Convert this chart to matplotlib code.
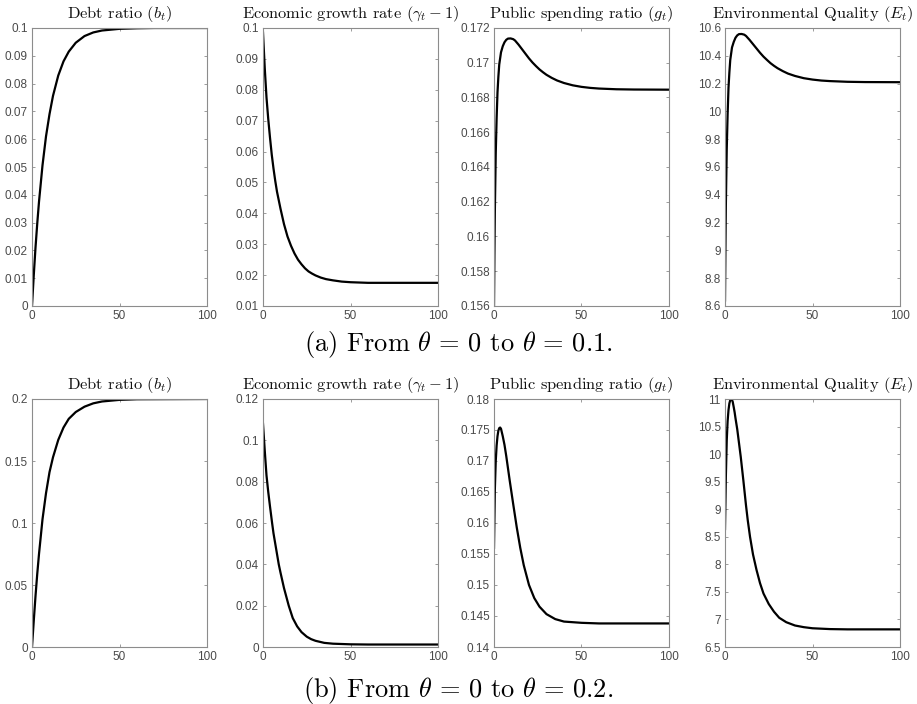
import matplotlib
matplotlib.use("Agg")
import matplotlib.pyplot as plt
from matplotlib.ticker import FormatStrFormatter, MultipleLocator

plt.rcParams['mathtext.fontset'] = 'cm'
plt.rcParams['font.family'] = ['Liberation Sans', 'DejaVu Sans']

# ---------------- Data ----------------
# (a) From theta = 0 to theta = 0.1
t_b1 = [0, 1, 2, 3, 4, 6, 8, 10, 12, 15, 18, 21, 25, 30, 35, 40, 50, 60, 70, 80, 100]
b1 = [0, 0.011, 0.021, 0.0297, 0.0375, 0.0506, 0.061, 0.069, 0.0756, 0.0829, 0.0880,
      0.0915, 0.0947, 0.0971, 0.0984, 0.0991, 0.0997, 0.0999, 0.1, 0.1, 0.1]

t_gr1 = [0, 1, 2, 3, 4, 5, 6, 7, 8, 10, 12, 14, 16, 18, 20, 22, 24, 26, 28, 30, 33, 36,
         40, 45, 50, 60, 100]
gr1 = [0.0985, 0.087, 0.0775, 0.0705, 0.0645, 0.059, 0.0545, 0.0505, 0.047, 0.0415,
       0.0365, 0.0325, 0.0295, 0.027, 0.025, 0.0235, 0.0222, 0.0212, 0.0205, 0.0199,
       0.0192, 0.0187, 0.0183, 0.0179, 0.0177, 0.0175, 0.0175]

t_g1 = [0, 0.25, 0.5, 1, 1.5, 2, 2.5, 3, 4, 5, 6, 7, 8, 9.5, 11, 12, 14, 16, 18, 20, 22,
        24, 26, 28, 30, 33, 36, 40, 45, 50, 55, 60, 70, 80, 100]
g1 = [0.156, 0.159, 0.1615, 0.1648, 0.1668, 0.1683, 0.1692, 0.1699, 0.1706, 0.17095,
      0.17118, 0.17132, 0.17139, 0.17140, 0.171356, 0.171282, 0.171046, 0.170781,
      0.170515, 0.17025, 0.170014, 0.169807, 0.169615, 0.169453, 0.169306, 0.169129,
      0.168981, 0.168834, 0.168701, 0.168612, 0.168553, 0.168515, 0.168474, 0.168459,
      0.16845]

t_e1 = [0, 0.25, 0.5, 1, 1.5, 2, 2.5, 3, 4, 5, 6, 7, 8, 9.5, 11, 12, 14, 16, 18, 20, 22,
        24, 26, 28, 30, 33, 36, 40, 45, 50, 55, 60, 70, 80, 100]
e1 = [8.64, 9.01, 9.33, 9.73, 9.98, 10.17, 10.28, 10.37, 10.46, 10.50, 10.53, 10.547,
      10.556, 10.557, 10.552, 10.543, 10.515, 10.484, 10.453, 10.422, 10.394, 10.370,
      10.347, 10.328, 10.311, 10.290, 10.272, 10.255, 10.239, 10.229, 10.222, 10.218,
      10.213, 10.211, 10.21]

# (b) From theta = 0 to theta = 0.2
t_b2 = [0, 1, 2, 3, 4, 6, 8, 10, 12, 15, 18, 21, 25, 30, 35, 40, 50, 60, 100]
b2 = [0, 0.021, 0.041, 0.059, 0.075, 0.103, 0.124, 0.141, 0.153, 0.167, 0.177, 0.184,
      0.1895, 0.1938, 0.1965, 0.198, 0.1993, 0.1998, 0.2]

t_gr2 = [0, 1, 2, 3, 4, 5.2, 6, 7, 8, 9, 10, 12, 14.7, 17, 19.5, 22, 25, 27.5, 30, 35,
         40, 50, 60, 100]
gr2 = [0.108, 0.095, 0.083, 0.075, 0.068, 0.060, 0.055, 0.050, 0.045, 0.040, 0.036,
       0.0285, 0.020, 0.014, 0.010, 0.0072, 0.005, 0.0038, 0.003, 0.002, 0.0016, 0.0013,
       0.0012, 0.0012]

t_g2 = [0, 0.5, 1, 1.5, 2, 2.5, 3, 3.5, 4, 5, 6, 7, 8, 9, 11, 13, 15, 17, 20, 23, 26,
        30, 35, 40, 50, 60, 100]
g2 = [0.156, 0.1655, 0.170, 0.1725, 0.174, 0.1749, 0.1753, 0.1754, 0.1752, 0.1740,
      0.1726, 0.1708, 0.1688, 0.1668, 0.1630, 0.1593, 0.1560, 0.1532, 0.1500, 0.1479,
      0.1465, 0.1453, 0.1445, 0.1441, 0.1439, 0.1438, 0.1438]

t_e2 = [0, 0.5, 1, 1.5, 2, 2.5, 3, 3.3, 3.8, 4.4, 5, 5.5, 6, 7, 8, 9, 10.5, 12, 13,
        14.3, 16, 18, 20, 22, 25, 28, 31, 35, 40, 45, 50, 60, 70, 100]
e2 = [8.64, 9.6, 10.25, 10.6, 10.8, 10.92, 10.98, 10.995, 11.0, 10.95, 10.85, 10.76,
      10.65, 10.45, 10.2, 9.95, 9.52, 9.07, 8.8, 8.5, 8.18, 7.9, 7.66, 7.47, 7.28, 7.14,
      7.03, 6.95, 6.89, 6.86, 6.84, 6.825, 6.82, 6.82]

titles = [r'Debt ratio $(b_t)$', r'Economic growth rate $(\gamma_t-1)$',
          r'Public spending ratio $(g_t)$', r'Environmental Quality $(E_t)$']

row1 = [(t_b1, b1, (0, 0.1), 0.01), (t_gr1, gr1, (0.01, 0.1), 0.01),
        (t_g1, g1, (0.156, 0.172), 0.002), (t_e1, e1, (8.6, 10.6), 0.2)]
row2 = [(t_b2, b2, (0, 0.2), 0.05), (t_gr2, gr2, (0, 0.12), 0.02),
        (t_g2, g2, (0.14, 0.18), 0.005), (t_e2, e2, (6.5, 11), 0.5)]

W, H = 917, 704
fig = plt.figure(figsize=(W / 100, H / 100), dpi=100)

lefts = [32, 263, 494, 725]
aw = 175
rows = [(28, 306, row1), (399, 647, row2)]

spine_c = '#8c8c8c'
tick_c = '#4a4a4a'


def fmt(v, p):
    if abs(v) < 1e-12:
        return '0'
    return ('%.4f' % v).rstrip('0').rstrip('.')


for top, bot, panels in rows:
    for i, (tx, yv, ylim, step) in enumerate(panels):
        ax = fig.add_axes([lefts[i] / W, 1 - bot / H, aw / W, (bot - top) / H])
        ax.plot(tx, yv, color='black', lw=1.6, solid_joinstyle='round')
        ax.set_xlim(0, 100)
        ax.set_ylim(*ylim)
        ax.xaxis.set_major_locator(MultipleLocator(50))
        ax.yaxis.set_major_locator(MultipleLocator(step))
        ax.yaxis.set_major_formatter(plt.FuncFormatter(fmt))
        ax.xaxis.set_major_formatter(FormatStrFormatter('%g'))
        ax.tick_params(direction='in', top=True, right=True, length=2.5, width=0.6,
                       color=spine_c, labelsize=8.5, labelcolor=tick_c, pad=3)
        for s in ax.spines.values():
            s.set_color(spine_c)
            s.set_linewidth(0.8)
        ax.set_title(titles[i], fontname='cmr10', fontsize=11.8, pad=7, color='#111111')

fig.text(0.5, 1 - 345 / H, r'(a) From $\theta\,=\,0$ to $\theta\,=\,0.1$.', fontname='cmr10',
         fontsize=19, ha='center', va='center')
fig.text(0.5, 1 - 690 / H, r'(b) From $\theta\,=\,0$ to $\theta\,=\,0.2$.', fontname='cmr10',
         fontsize=19, ha='center', va='center')

fig.savefig('out.png', dpi=100)
